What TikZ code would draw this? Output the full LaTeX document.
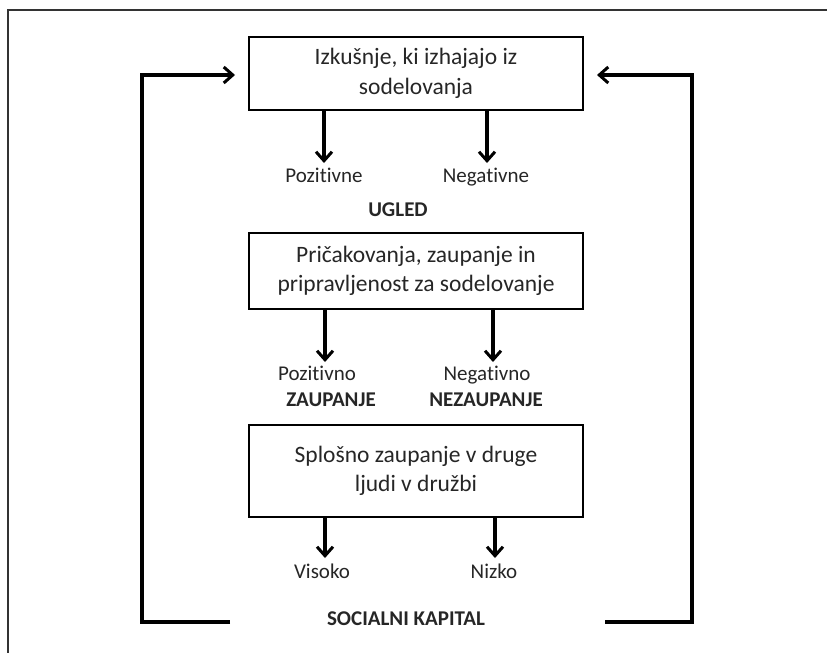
\documentclass[tikz,border=0pt]{standalone}
\usepackage{fontspec}
\setmainfont[Ligatures=NoCommon]{Carlito}
\usetikzlibrary{arrows.meta}

\tikzset{
  box/.style={draw=black, line width=1.4pt, minimum width=334pt, align=center,
              inner sep=0pt, font=\fontsize{23.5}{29.5}\selectfont, text=black!85},
  lbl/.style={inner sep=0pt, text height=15pt, text depth=5pt,
              font=\fontsize{21}{25}\selectfont, text=black!85},
  blbl/.style={lbl, font=\fontsize{21}{25}\selectfont\bfseries},
  arr/.style={line width=3.2pt, -{Straight Barb[length=9pt,width=16pt,line width=3pt]}},
  loop/.style={line width=3pt, line join=miter},
  frame/.style={line width=2.6pt, black!80}
}

\begin{document}
\begin{tikzpicture}[x=1pt,y=-1pt]
  \useasboundingbox (0,0) rectangle (827,653);

  % outer frame (top and left edges)
  \coordinate (fa) at (827,10);
  \coordinate (fb) at (8,10);
  \coordinate (fc) at (8,653);
  \draw[frame] (fa) -- (fb) -- (fc);

  % boxes
  \node[box, minimum height=73pt] (b1) at (416,73.5) {Izkušnje, ki izhajajo iz\\sodelovanja};
  \node[box, minimum height=76pt] (b2) at (416,271) {Pričakovanja, zaupanje in\\pripravljenost za sodelovanje};
  \node[box, minimum height=92pt] (b3) at (416,471) {Splošno zaupanje v druge\\ljudi v družbi};

  % labels
  \node[lbl] (p1) at (324,177) {Pozitivne};
  \node[lbl] (n1) at (486,177) {Negativne};
  \node[blbl] (ugled) at (398,211) {UGLED};
  \node[lbl] (p2) at (317,375) {Pozitivno};
  \node[blbl] (zau) at (331,401) {ZAUPANJE};
  \node[lbl] (n2) at (487,375) {Negativno};
  \node[blbl] (nezau) at (486,401) {NEZAUPANJE};
  \node[lbl] (p3) at (322,573) {Visoko};
  \node[lbl] (n3) at (494,573) {Nizko};
  \node[blbl] (sk) at (406,620) {SOCIALNI KAPITAL};

  % arrow tips
  \coordinate (t1a) at (324,163);
  \coordinate (t1b) at (487,163);
  \coordinate (t2a) at (325,362);
  \coordinate (t2b) at (493,362);
  \coordinate (t3a) at (325,558);
  \coordinate (t3b) at (495,558);

  \draw[arr] (b1.south -| t1a) -- (t1a);
  \draw[arr] (b1.south -| t1b) -- (t1b);
  \draw[arr] (b2.south -| t2a) -- (t2a);
  \draw[arr] (b2.south -| t2b) -- (t2b);
  \draw[arr] (b3.south -| t3a) -- (t3a);
  \draw[arr] (b3.south -| t3b) -- (t3b);

  % feedback loops
  \coordinate (la) at (230,622);
  \coordinate (lb) at (142,622);
  \coordinate (lc) at (142,75);
  \coordinate (ld) at (235,75);
  \draw[loop, arr] (la) -- (lb) -- (lc) -- (ld);

  \coordinate (ra) at (605,622);
  \coordinate (rb) at (692,622);
  \coordinate (rc) at (692,75);
  \coordinate (rd) at (597,75);
  \draw[loop, arr] (ra) -- (rb) -- (rc) -- (rd);
\end{tikzpicture}
\end{document}
